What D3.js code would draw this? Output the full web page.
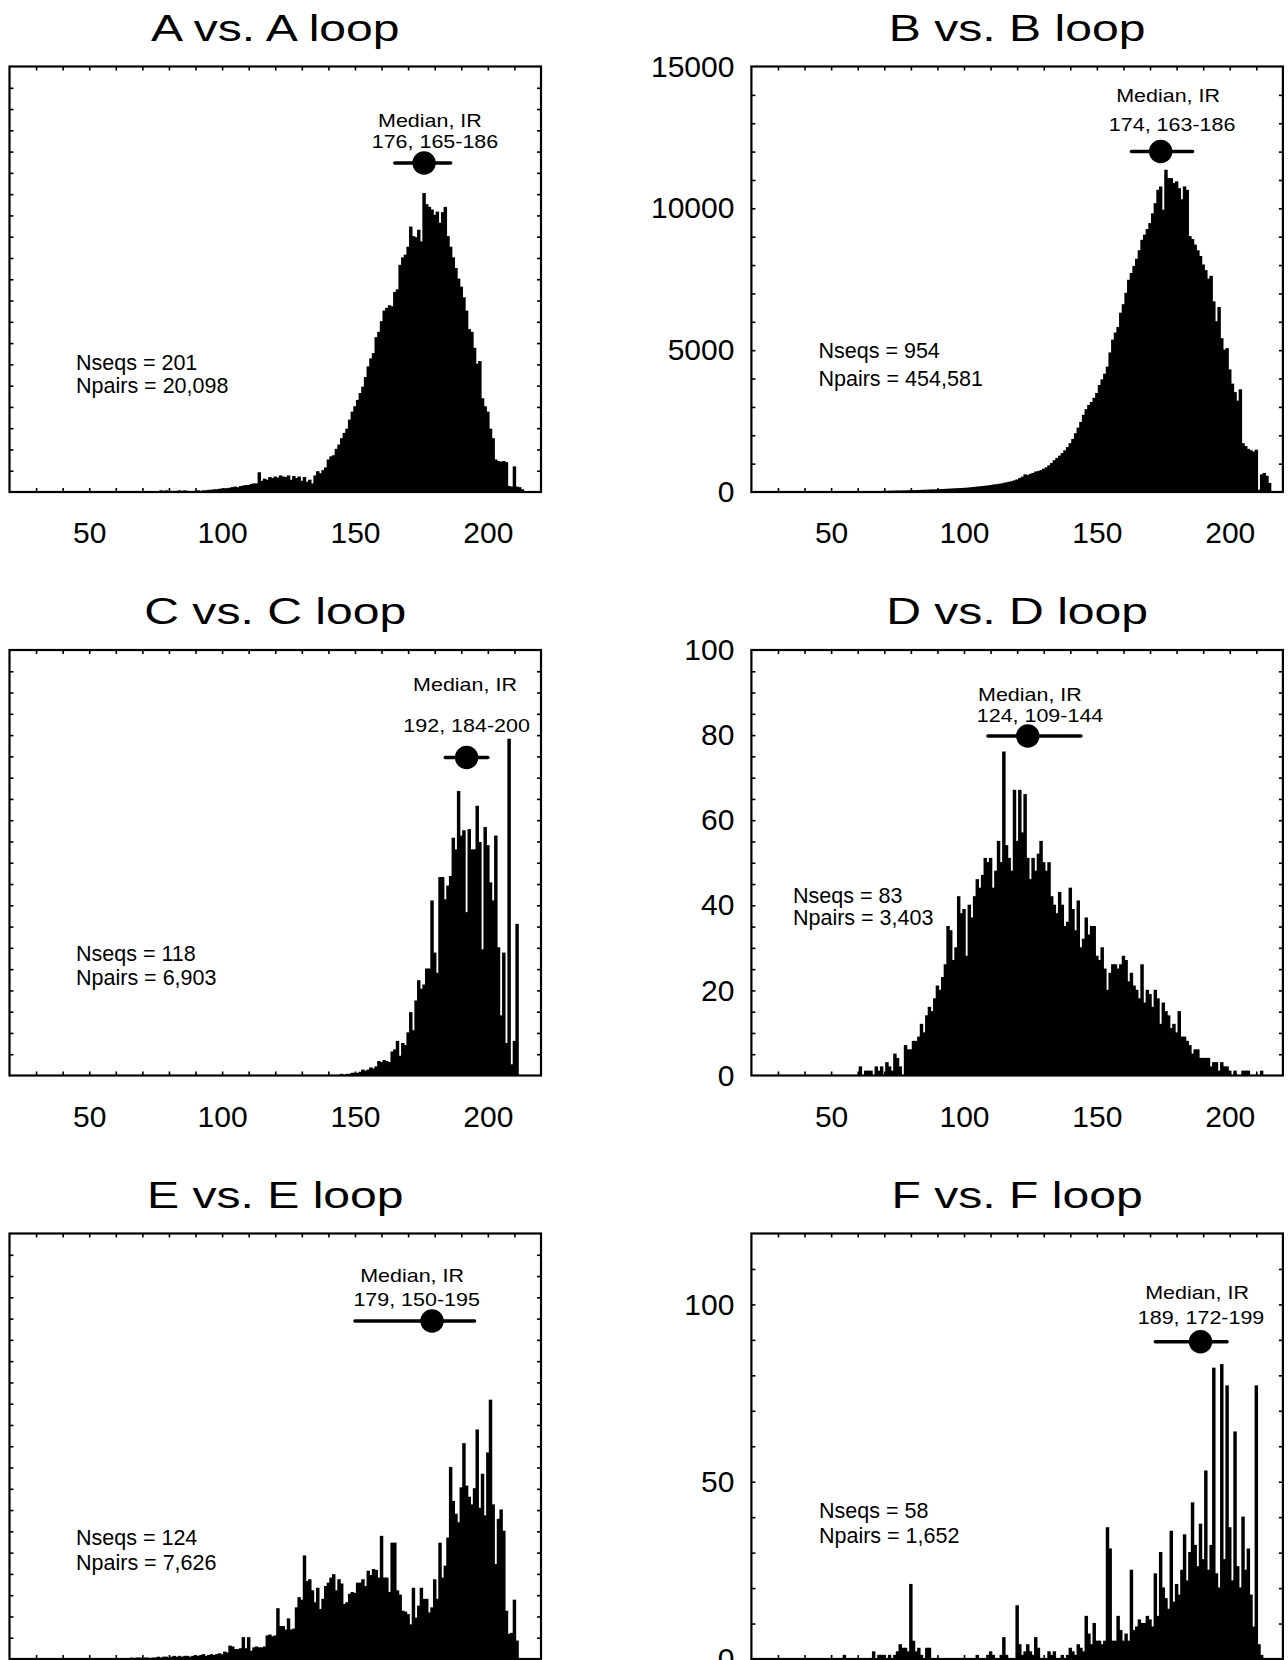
<!DOCTYPE html>
<html lang="en">
<head>
<meta charset="UTF-8">
<title>Loop length distributions</title>
<script src="https://d3js.org/d3.v7.min.js"></script>
<style>
  body { margin: 0; background: #fff; }
  svg { display: block; font-family: "Liberation Sans", Arial, sans-serif; }
</style>
</head>
<body>
<div id="chart"></div>
<script>
// panel titles and summary numbers
const titles = ["A vs. A loop", "B vs. B loop", "C vs. C loop", "D vs. D loop", "E vs. E loop", "F vs. F loop"];
const medians = [176, 174, 192, 124, 179, 189];
const irLow = [165, 163, 184, 109, 150, 172];
const irHigh = [186, 186, 200, 144, 195, 199];
const nSeqs = ["201", "954", "118", "83", "124", "58"];
const nPairs = ["20,098", "454,581", "6,903", "3,403", "7,626", "1,652"];

// histogram counts, one bin per length unit, starting at firstBin
const firstBin = [76, 70, 145, 60, 66, 55];

const countsA = [
  0, 2, 1, 2, 0, 1, 0, 1, 2, 1,
  2, 1, 0, 1, 1, 2, 1, 2, 2, 3,
  3, 4, 4, 5, 5, 6, 6, 7, 8, 9,
  8, 10, 11, 12, 12, 14, 15, 15, 36, 20,
  24, 22, 27, 25, 28, 26, 30, 28, 27, 30,
  22, 29, 25, 28, 20, 27, 18, 22, 15, 30,
  38, 34, 40, 45, 60, 66, 68, 80, 88, 100,
  110, 118, 135, 150, 160, 172, 185, 197, 215, 235,
  250, 260, 290, 300, 320, 340, 345, 350, 348, 375,
  380, 426, 440, 445, 460, 498, 480, 478, 492, 470,
  561, 540, 535, 530, 520, 526, 505, 525, 535, 480,
  460, 440, 420, 400, 385, 365, 340, 305, 300, 270,
  240, 245, 175, 160, 150, 118, 100, 60, 57, 56,
  57, 55, 10, 9, 47, 9, 8, 4
];

const countsB = [
  20, 20, 25, 25, 30, 30, 30, 35, 35, 40,
  40, 45, 45, 50, 55, 55, 60, 65, 70, 70,
  75, 80, 85, 90, 95, 100, 105, 110, 115, 120,
  125, 130, 140, 150, 160, 170, 180, 190, 200, 210,
  225, 240, 250, 265, 280, 300, 320, 340, 360, 390,
  420, 470, 520, 600, 580, 620, 650, 700, 720, 750,
  800, 850, 920, 1000, 1100, 1180, 1260, 1350, 1450, 1560,
  1700, 1850, 2050, 2250, 2450, 2700, 2900, 3050, 3150, 3300,
  3470, 3750, 3950, 4150, 4400, 4900, 5350, 5600, 5800, 6300,
  6600, 7000, 7460, 7700, 7950, 8200, 8500, 8870, 9050, 9250,
  9460, 9800, 10160, 10630, 10750, 9930, 11340, 11045, 11045, 10870,
  10930, 10690, 10300, 10750, 10630, 9000, 8900, 8700, 8500, 8300,
  8000, 7800, 7500, 7600, 6700, 6000, 6500, 5400, 5000, 5050,
  4300, 3800, 3500, 3200, 3600, 1700, 1600, 1500, 1450, 1400,
  1470, 60, 600, 650, 550, 300
];

const countsC = [
  1, 0, 1, 1, 2, 2, 2, 3, 5, 4,
  5, 7, 6, 8, 13, 12, 14, 13, 12, 22,
  24, 32, 18, 30, 28, 40, 59, 42, 70, 89,
  81, 85, 100, 100, 164, 115, 96, 186, 186, 165,
  178, 187, 223, 212, 267, 225, 230, 153, 231, 212,
  212, 253, 219, 118, 233, 216, 181, 164, 225, 120,
  56, 115, 30, 316, 10, 32, 142
];

const countsD = [
  0, 2, 0, 1, 1, 1, 0, 2, 1, 2,
  0, 3, 2, 1, 5, 4, 2, 0, 7, 6,
  6, 8, 8, 9, 12, 10, 14, 16, 15, 18,
  21, 20, 23, 26, 35, 34, 27, 30, 42, 38,
  39, 28, 40, 37, 42, 46, 44, 47, 51, 50,
  51, 44, 48, 55, 50, 76, 54, 51, 48, 67,
  55, 67, 57, 66, 51, 46, 51, 48, 52, 55,
  50, 48, 50, 42, 40, 38, 43, 40, 35, 36,
  44, 39, 34, 41, 30, 32, 37, 33, 35, 35,
  28, 27, 30, 25, 20, 24, 26, 26, 25, 26,
  28, 27, 22, 24, 21, 20, 18, 26, 17, 20,
  19, 16, 20, 18, 12, 17, 15, 14, 11, 12,
  10, 15, 9, 9, 8, 7, 5, 6, 6, 4,
  4, 4, 4, 2, 3, 3, 1, 3, 2, 2,
  1, 0, 1, 0, 0, 1, 1, 1, 0, 0,
  0, 0, 1
];

const countsE = [
  1, 0, 1, 1, 0, 1, 1, 0, 1, 1,
  2, 1, 2, 2, 1, 2, 3, 2, 3, 2,
  3, 3, 2, 3, 4, 3, 4, 5, 3, 4,
  5, 4, 5, 6, 5, 8, 7, 15, 14, 11,
  11, 12, 25, 12, 25, 9, 13, 14, 13, 13,
  14, 27, 28, 26, 27, 59, 38, 38, 34, 47,
  34, 35, 60, 72, 69, 121, 91, 93, 80, 66,
  83, 58, 70, 85, 89, 95, 99, 80, 93, 88,
  64, 66, 76, 78, 77, 89, 89, 93, 85, 103,
  98, 105, 104, 95, 144, 95, 95, 78, 136, 136,
  80, 75, 56, 55, 52, 40, 83, 48, 62, 83,
  70, 70, 54, 60, 93, 70, 136, 95, 109, 142,
  225, 185, 170, 160, 201, 253, 203, 190, 181, 200,
  269, 177, 217, 168, 242, 304, 181, 111, 164, 175,
  150, 56, 29, 30, 69, 21
];

const countsF = [
  1, 0, 0, 0, 0, 0, 0, 0, 0, 0,
  0, 2, 0, 1, 1, 1, 0, 1, 0, 1,
  2, 4, 3, 3, 2, 21, 5, 2, 3, 1,
  0, 3, 3, 0, 0, 0, 0, 0, 0, 0,
  0, 0, 0, 0, 0, 0, 0, 0, 0, 0,
  1, 0, 0, 0, 1, 2, 1, 0, 0, 1,
  6, 1, 0, 0, 0, 15, 4, 1, 2, 4,
  2, 1, 6, 3, 0, 0, 0, 2, 1, 2,
  0, 0, 1, 0, 1, 3, 2, 1, 4, 3,
  2, 12, 7, 4, 10, 5, 5, 4, 5, 37,
  31, 5, 5, 12, 8, 5, 7, 5, 25, 8,
  9, 11, 10, 10, 12, 11, 9, 24, 12, 30,
  20, 17, 14, 36, 16, 21, 18, 25, 35, 22,
  30, 44, 32, 26, 38, 28, 53, 25, 32, 82,
  24, 20, 83, 28, 77, 37, 22, 64, 26, 20,
  40, 25, 31, 18, 9, 77, 4, 1
];

const counts = [countsA, countsB, countsC, countsD, countsE, countsF];

// axes
const xDomain = [20, 220];
const xTickLabels = [50, 100, 150, 200];
const yMax = [800, 15000, 400, 100, 500, 120];
const yStep = [40, 1000, 20, 5, 25, 10];
const yTickLabels = [[], [0, 5000, 10000, 15000], [], [0, 20, 40, 60, 80, 100], [], [0, 50, 100]];

// layout
const W = 1288, H = 1660;
const colX = [9.5, 751.4];
const rowY = [66.5, 650, 1233.5];
const frameW = 531.5, frameH = 425.5;

// annotation placement: x in length units, y in px below the frame top
const medPos = [
  {x1: 178.2, x2: 180.1, y1: 60.5, y2: 81.5, cy: 96.5},
  {x1: 176.8, x2: 178.3, y1: 35.3, y2: 64.5, cy: 85},
  {x1: 191.4, x2: 192.0, y1: 41.4, y2: 81.8, cy: 107.5},
  {x1: 124.8, x2: 128.6, y1: 51, y2: 72, cy: 86},
  {x1: 171.5, x2: 173.2, y1: 48.8, y2: 72.2, cy: 87.5},
  {x1: 187.7, x2: 189.2, y1: 65.8, y2: 90.5, cy: 108.2}
];
const nPos = [
  {x: 66.5, y1: 303.1, y2: 326.5},
  {x: 67.1, y1: 291.5, y2: 319.2},
  {x: 66.5, y1: 311.4, y2: 335.4},
  {x: 41.6, y1: 253.2, y2: 274.6},
  {x: 66.5, y1: 311.5, y2: 336.5},
  {x: 67.6, y1: 284.8, y2: 309.2}
];

const svg = d3.select("#chart").append("svg")
  .attr("width", W)
  .attr("height", H);

svg.append("rect").attr("width", W).attr("height", H).attr("fill", "#fff");

const x = d3.scaleLinear().domain(xDomain).range([0, frameW]);
const binW = x(1) - x(0);

titles.forEach((title, i) => {
  const col = i % 2, row = Math.floor(i / 2);
  const g = svg.append("g").attr("transform", `translate(${colX[col]},${rowY[row]})`);
  const y = d3.scaleLinear().domain([0, yMax[i]]).range([frameH, 0]);

  const bins = counts[i].map((c, j) => ({len: firstBin[i] + j, c: c}));

  // bars, slightly overlapped so neighbours merge into a solid mass
  g.selectAll("rect.bar")
    .data(bins.filter(d => d.c > 0))
    .join("rect")
    .attr("class", "bar")
    .attr("x", d => x(d.len - 0.5) - 0.4)
    .attr("width", binW + 0.8)
    .attr("y", d => y(d.c) - 0.6)
    .attr("height", d => frameH - y(d.c) + 0.6)
    .attr("fill", "#000");

  // inward minor ticks on all four sides
  const xt = d3.range(30, 220, 10);
  const yt = d3.range(yStep[i], yMax[i] - yStep[i] / 2, yStep[i]);
  const tick = sel => {
    sel.select(".domain").remove();
    sel.selectAll("line").attr("stroke", "#000").attr("stroke-width", 1.6);
  };
  g.append("g").attr("transform", `translate(0,${frameH})`)
    .call(d3.axisBottom(x).tickValues(xt).tickSize(-4).tickFormat("")).call(tick);
  g.append("g")
    .call(d3.axisTop(x).tickValues(xt).tickSize(-4).tickFormat("")).call(tick);
  g.append("g")
    .call(d3.axisLeft(y).tickValues(yt).tickSize(-4).tickFormat("")).call(tick);
  g.append("g").attr("transform", `translate(${frameW},0)`)
    .call(d3.axisRight(y).tickValues(yt).tickSize(-4).tickFormat("")).call(tick);

  // frame
  g.append("rect")
    .attr("width", frameW)
    .attr("height", frameH)
    .attr("fill", "none")
    .attr("stroke", "#000")
    .attr("stroke-width", 2.2);

  // tick labels
  if (rowY[row] + frameH + 60 < H) {
    g.append("g").attr("transform", `translate(0,${frameH})`)
      .call(d3.axisBottom(x).tickValues(xTickLabels).tickSize(0).tickPadding(30).tickFormat(d3.format("d")))
      .call(a => a.select(".domain").remove())
      .call(a => a.selectAll("text").attr("font-size", 30).attr("font-family", "Liberation Sans, Arial, sans-serif").attr("fill", "#000"));
  }
  if (yTickLabels[i].length) {
    g.append("g")
      .call(d3.axisLeft(y).tickValues(yTickLabels[i]).tickSize(0).tickPadding(17).tickFormat(d3.format("d")))
      .call(a => a.select(".domain").remove())
      .call(a => a.selectAll("text").attr("font-size", 30).attr("font-family", "Liberation Sans, Arial, sans-serif").attr("fill", "#000"));
  }

  // title
  g.append("text")
    .attr("transform", `translate(${frameW / 2},-26) scale(1.3,1)`)
    .attr("text-anchor", "middle")
    .attr("font-size", 37)
    .text(title);

  // median and interquartile range
  const m = medPos[i];
  g.append("line")
    .attr("x1", x(irLow[i])).attr("x2", x(irHigh[i]))
    .attr("y1", m.cy).attr("y2", m.cy)
    .attr("stroke", "#000").attr("stroke-width", 3.5).attr("stroke-linecap", "round");
  g.append("circle")
    .attr("cx", x(medians[i])).attr("cy", m.cy).attr("r", 11.7)
    .attr("fill", "#000");
  g.append("text")
    .attr("transform", `translate(${x(m.x1)},${m.y1}) scale(1.13,1)`)
    .attr("text-anchor", "middle").attr("font-size", 19)
    .text("Median, IR");
  g.append("text")
    .attr("transform", `translate(${x(m.x2)},${m.y2}) scale(1.13,1)`)
    .attr("text-anchor", "middle").attr("font-size", 19)
    .text(`${medians[i]}, ${irLow[i]}-${irHigh[i]}`);

  // sample sizes
  const n = nPos[i];
  g.append("text").attr("x", n.x).attr("y", n.y1).attr("font-size", 21.5)
    .text(`Nseqs = ${nSeqs[i]}`);
  g.append("text").attr("x", n.x).attr("y", n.y2).attr("font-size", 21.5)
    .text(`Npairs = ${nPairs[i]}`);
});
</script>
</body>
</html>
